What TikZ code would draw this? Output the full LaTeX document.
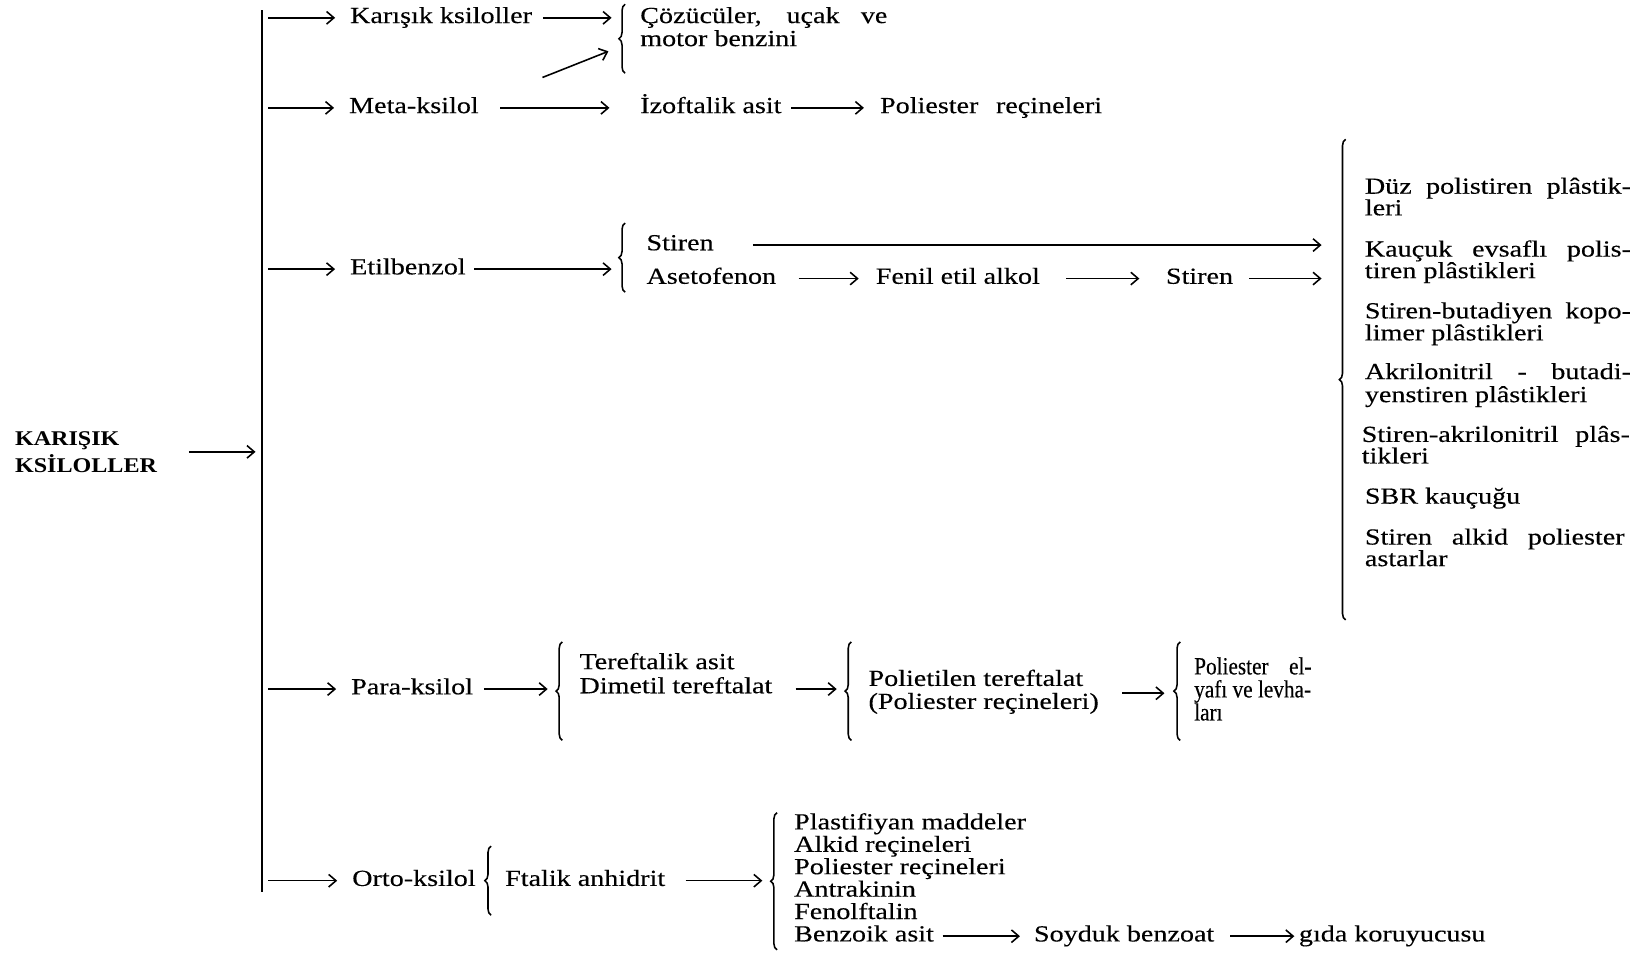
\documentclass[tikz,border=0pt]{standalone}
\usepackage{fontspec}
\setmainfont{Liberation Serif}[FakeStretch=1.22, FakeBold=0.3]
\newfontfamily\titlefont{Liberation Serif}[FakeStretch=1.15]
\newfontfamily\condfont{Liberation Serif}[FakeStretch=0.86, FakeBold=0.3]
\usetikzlibrary{arrows.meta,decorations.pathreplacing}
\newcommand\fsz[1]{\fontsize{11pt}{#1}\selectfont}
\newcommand\ttlfont{\titlefont\bfseries\fontsize{10pt}{13pt}\selectfont}
\newcommand\lns[1]{\vtop{\lineskip=0pt\lineskiplimit=-20pt\halign{##\hfil\cr#1\crcr}}}
\newcommand\js[2]{\makebox[#1][s]{#2}}
\begin{document}
\begin{tikzpicture}[x=0.5pt,y=-0.5pt,
  t/.style={font=\fsz{10.7pt}, inner sep=0pt, anchor=base west, text height=7pt, text depth=2pt},
  m/.style={font=\fsz{#1}, inner sep=0pt, anchor=base west},
  m/.default=10.7pt,
  mc/.style={font=\condfont\fontsize{11.8pt}{11pt}\selectfont, inner sep=0pt, anchor=base west},
  ttl/.style={font=\ttlfont, inner sep=0pt, anchor=base west},
  arr/.style={-{Straight Barb[length=3.5pt,width=6pt]}, line width=0.75pt},
  brc/.style={decorate, decoration={brace, amplitude=3pt}, line width=0.75pt},
  bar/.style={line width=1.05pt}]
\useasboundingbox (0,0) rectangle (1568,910);
\fill[white] (0,0) rectangle (1568,910);

% main bar
\coordinate (bartop) at (250,10);
\coordinate (barbot) at (250,852);
\draw[bar] (bartop) -- (barbot);

% title
\node[ttl] (title) at (14,425) {\lns{KARIŞIK\cr KSİLOLLER}};
\draw[arr, shorten <=15pt, shorten >=3pt] (title.east) -- (title.east -| bartop);

% row 1
\node[t] (k1) at (334,22) {Karışık ksiloller};
\node[m={11pt}] (c1) at (611,22) {\lns{\js{118pt}{Çözücüler, uçak ve}\cr motor benzini}};
\coordinate (b1a) at (584,17);
\draw[arr, shorten <=5pt] (k1.east) -- (b1a);
\draw[brc] (597,70) -- (597,4);
\coordinate (d1s) at (518,74);
\coordinate (d1e) at (581,49);
\draw[arr] (d1s) -- (d1e);

% row 2
\node[t] (m1) at (333,108) {Meta-ksilol};
\node[t] (i1) at (611,108) {İzoftalik asit};
\node[t] (p1) at (840,108) {\js{106pt}{Poliester reçineleri}};
\draw[arr, shorten <=10pt, shorten >=14.5pt] (m1.east) -- (i1.west);
\draw[arr, shorten <=4.5pt, shorten >=7.5pt] (i1.east) -- (p1.west);

% row 3
\node[t] (e1) at (334,262) {Etilbenzol};
\coordinate (b3a) at (584,257);
\draw[arr, shorten <=4pt] (e1.east) -- (b3a);
\draw[brc] (597,279) -- (597,213);
\node[t] (s1) at (617,239) {Stiren};
\node[t] (a1) at (617,271) {Asetofenon};
\node[t] (f1) at (836,271) {Fenil etil alkol};
\node[t] (s2) at (1113,271) {Stiren};
\coordinate (bb1) at (1262,234);
\coordinate (bb2) at (1262,266);
\draw[arr, shorten <=18.5pt] (s1.east) -- (bb1);
\draw[arr, shorten <=10.5pt, shorten >=8pt] (a1.east) -- (f1.west);
\draw[arr, shorten <=12.5pt, shorten >=12.5pt] (f1.east) -- (s2.west);
\draw[arr, shorten <=7.5pt] (s2.east) -- (bb2);
\draw[brc] (1285,592) -- (1285,133);

% right column
\node[m={10.3pt}] (r1) at (1303,185) {\lns{\js{127pt}{Düz polistiren plâstik-}\cr leri}};
\node[m={10.3pt}] (r2) at (1303,245) {\lns{\js{127pt}{Kauçuk evsaflı polis-}\cr tiren plâstikleri}};
\node[m={10.5pt}] (r3) at (1303,304) {\lns{\js{127pt}{Stiren-butadiyen kopo-}\cr limer plâstikleri}};
\node[m={11pt}] (r4) at (1303,362) {\lns{\js{127pt}{Akrilonitril - butadi-}\cr yenstiren plâstikleri}};
\node[m={10.3pt}] (r5) at (1300,422) {\lns{\js{128pt}{Stiren-akrilonitril plâs-}\cr tikleri}};
\node[t] (r6) at (1303,481) {SBR kauçuğu};
\node[m={10.3pt}] (r7) at (1303,520) {\lns{\js{124pt}{Stiren alkid poliester}\cr astarlar}};

% row 4
\node[t] (pk) at (335,663) {Para-ksilol};
\coordinate (b4a) at (523,658);
\draw[arr, shorten <=5pt] (pk.east) -- (b4a);
\draw[brc] (537,707) -- (537,613);
\node[m={11.5pt}] (tt) at (553,639) {\lns{Tereftalik asit\cr Dimetil tereftalat}};
\coordinate (b5a) at (799,658);
\draw[arr, shorten <=11pt] (tt.east |- b5a) -- (b5a);
\draw[brc] (813,707) -- (813,613);
\node[m={11pt}] (pt) at (829,655) {\lns{Polietilen tereftalat\cr (Poliester reçineleri)}};
\coordinate (b6a) at (1112,662);
\draw[arr, shorten <=11pt] (pt.east |- b6a) -- (b6a);
\draw[brc] (1127,707) -- (1127,613);
\node[mc] (pe) at (1140,644) {\lns{\js{56pt}{Poliester el-}\cr yafı ve levha-\cr ları}};

% row 5
\node[t] (ok) at (336,846) {Orto-ksilol};
\draw[brc] (469,874) -- (469,808);
\node[t] (fa) at (482,846) {Ftalik anhidrit};
\coordinate (b8a) at (728,841);
\draw[arr, shorten <=9.5pt] (fa.east) -- (b8a);
\draw[brc] (742,907) -- (742,776);
\node[m] (ls) at (758,792) {\lns{Plastifiyan maddeler\cr Alkid reçineleri\cr Poliester reçineleri\cr Antrakinin\cr Fenolftalin}};
\node[t] (ba) at (758,899) {Benzoik asit};
\node[t] (sb) at (987,899) {Soyduk benzoat};
\node[t] (gk) at (1240,899) {gıda koruyucusu};
\draw[arr, shorten <=4pt, shorten >=6.5pt] (ba.east) -- (sb.west);
\draw[arr, shorten <=7.5pt, shorten >=2pt] (sb.east) -- (gk.west);

% branch arrows
\foreach \n in {k1,m1,e1,pk,ok}
  \draw[arr, shorten <=3pt, shorten >=7pt] (\n.west -| bartop) -- (\n.west);
\end{tikzpicture}
\end{document}
